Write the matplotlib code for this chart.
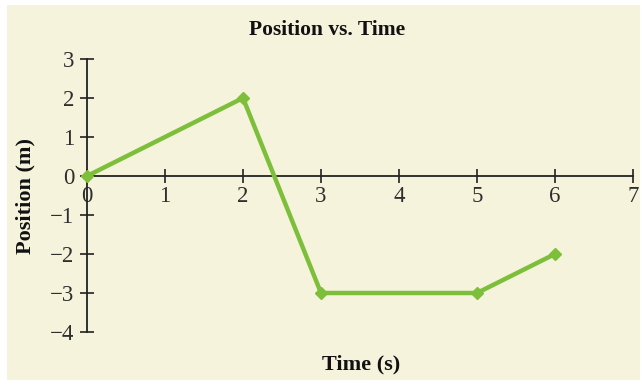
import matplotlib.pyplot as plt
from matplotlib.patches import Rectangle

# data
time_s = [0, 2, 3, 5, 6]
position_m = [0, 2, -3, -3, -2]
x_ticks = [0, 1, 2, 3, 4, 5, 6, 7]
y_ticks = [3, 2, 1, 0, -1, -2, -3, -4]

cream = '#f5f3dc'
green = '#7dbf3a'

plt.rcParams['font.family'] = ['Liberation Serif', 'DejaVu Serif']

fig = plt.figure(figsize=(6.42, 3.85), dpi=100, facecolor='white')
fig.patches.append(Rectangle((7 / 642, 5 / 385), 633 / 642, 375 / 385,
                             transform=fig.transFigure, facecolor=cream,
                             edgecolor='none', zorder=-10))

W, H = 642, 385
x0, x7 = 87, 633
y3, ym4 = 59, 332
ax = fig.add_axes([x0 / W, 1 - ym4 / H, (x7 - x0) / W, (ym4 - y3) / H])
ax.set_facecolor('none')
ax.set_xlim(0, 7)
ax.set_ylim(-4, 3)

ax.plot(time_s, position_m, color=green, lw=3.2, marker='D', ms=6,
        mfc=green, mec=green, clip_on=False, zorder=3)

for s in ['top', 'right']:
    ax.spines[s].set_visible(False)
ax.spines['left'].set_position(('data', 0))
ax.spines['bottom'].set_position(('data', 0))
for s in ['left', 'bottom']:
    ax.spines[s].set_color('#222222')
    ax.spines[s].set_linewidth(1.3)

ax.set_xticks(x_ticks)
ax.set_yticks(y_ticks)
ax.set_xticklabels([str(v) for v in x_ticks])
ax.set_yticklabels([str(v).replace('-', '\u2212') for v in y_ticks])
ax.tick_params(axis='both', direction='inout', length=10, width=1.2,
               color='#222222', labelsize=16.5, labelcolor='#2e2e2e')
ax.tick_params(axis='x', pad=2.5)
ax.tick_params(axis='y', pad=4)

fig.text(327 / W, 1 - 30 / H, 'Position vs. Time',
         ha='center', va='center', fontsize=15.5, fontweight='bold', color='#111111')
fig.text(361 / W, 1 - 364 / H, 'Time (s)', ha='center', va='center',
         fontsize=16, fontweight='bold', color='#111111')
fig.text(25 / W, 1 - 196 / H, 'Position (m)', ha='center', va='center',
         rotation=90, fontsize=16, fontweight='bold', color='#111111')

fig.savefig('out.png', dpi=100, facecolor=fig.get_facecolor())
